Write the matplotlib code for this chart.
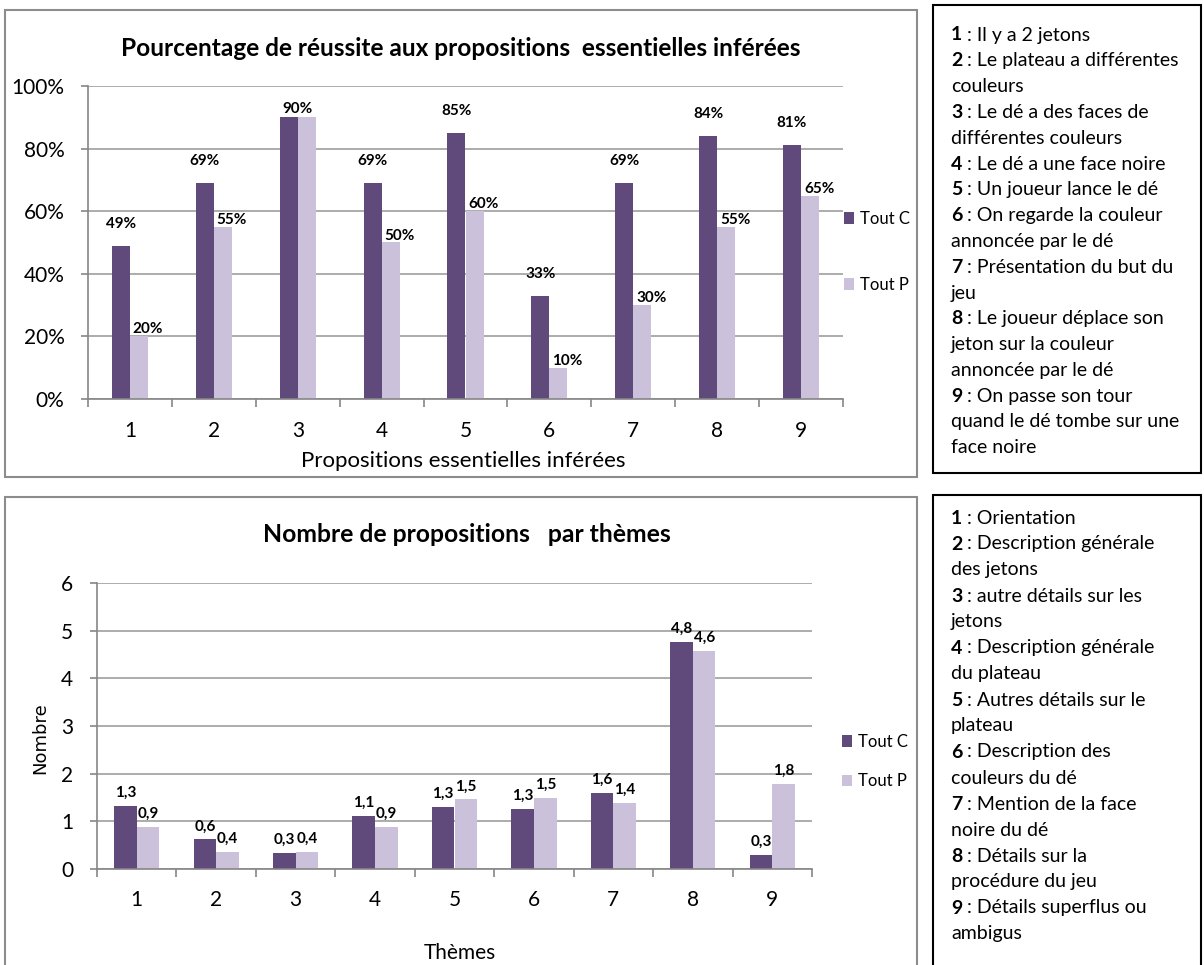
import re
import numpy as np
import matplotlib
matplotlib.use('Agg')
import matplotlib.pyplot as plt
from matplotlib.patches import Rectangle
from matplotlib.ticker import PercentFormatter

# Data
categories = ['1', '2', '3', '4', '5', '6', '7', '8', '9']
series_names = ['Tout C', 'Tout P']
reussite_c = [49, 69, 90, 69, 85, 33, 69, 84, 81]
reussite_p = [20, 55, 90, 50, 60, 10, 30, 55, 65]
nombre_c = [1.33, 0.62, 0.34, 1.12, 1.31, 1.26, 1.60, 4.76, 0.30]
nombre_p = [0.88, 0.36, 0.36, 0.88, 1.46, 1.49, 1.38, 4.58, 1.78]

notes_top = [
    "1 : Il y a 2 jetons",
    "2 : Le plateau a différentes",
    "couleurs",
    "3 : Le dé a des faces de",
    "différentes couleurs",
    "4 : Le dé a une face noire",
    "5 : Un joueur lance le dé",
    "6 : On regarde la couleur",
    "annoncée par le dé",
    "7 : Présentation du but du",
    "jeu",
    "8 : Le joueur déplace son",
    "jeton sur la couleur",
    "annoncée par le dé",
    "9 : On passe son tour",
    "quand le dé tombe sur une",
    "face noire",
]
notes_bottom = [
    "1 : Orientation",
    "2 : Description générale",
    "des jetons",
    "3 : autre détails sur les",
    "jetons",
    "4 : Description générale",
    "du plateau",
    "5 : Autres détails sur le",
    "plateau",
    "6 : Description des",
    "couleurs du dé",
    "7 : Mention de la face",
    "noire du dé",
    "8 : Détails sur la",
    "procédure du jeu",
    "9 : Détails superflus ou",
    "ambigus",
]

# Style
W, H = 1204, 965
FONT = ['Lato', 'DejaVu Sans']
DARK = '#604A7B'
LIGHT = '#CCC1DA'
GRID = '#A6A6A6'
AXIS = '#868686'

plt.rcParams['font.family'] = FONT

fig = plt.figure(figsize=(W / 100, H / 100), dpi=100)


def px_axes(left, top, right, bottom):
    return fig.add_axes([left / W, 1 - bottom / H, (right - left) / W, (bottom - top) / H])


def fx(px):
    return px / W


def fy(py):
    return 1 - py / H


def setup_axes(ax, ymax, ystep, xpad):
    x = np.arange(1, len(categories) + 1)
    ax.set_xlim(0.5, len(categories) + 0.5)
    ax.set_ylim(0, ymax)
    ax.set_yticks(np.arange(0, ymax + ystep / 2, ystep))
    ax.yaxis.grid(True, color=GRID, lw=1.3)
    ax.set_axisbelow(True)
    for s in ['top', 'right']:
        ax.spines[s].set_visible(False)
    for s in ['left', 'bottom']:
        ax.spines[s].set_color(AXIS)
        ax.spines[s].set_linewidth(1.2)
    ax.set_xticks(np.arange(0.5, len(categories) + 1, 1))
    ax.set_xticklabels([])
    ax.set_xticks(x, minor=True)
    ax.set_xticklabels(categories, minor=True, fontsize=15)
    ax.tick_params(axis='x', which='major', length=6, color=AXIS, width=1.2)
    ax.tick_params(axis='x', which='minor', length=0, pad=xpad)
    ax.tick_params(axis='y', length=5, color=AXIS, width=1.2, pad=12, labelsize=15)
    return x


# ---------- Chart 1 : pourcentage ----------
ax1 = px_axes(88, 86, 843, 399)
x = setup_axes(ax1, 1.0, 0.2, 16)
ax1.yaxis.set_major_formatter(PercentFormatter(1.0, decimals=0))
w1 = 0.215
c_vals = np.array(reussite_c) / 100
p_vals = np.array(reussite_p) / 100
b1 = ax1.bar(x - w1 / 2, c_vals, w1, color=DARK, label=series_names[0])
b2 = ax1.bar(x + w1 / 2, p_vals, w1, color=LIGHT, label=series_names[1])
for i in range(len(categories)):
    if reussite_c[i] == reussite_p[i]:
        ax1.annotate(f'{reussite_p[i]}%', (x[i], p_vals[i]), xytext=(0, 8),
                     textcoords='offset pixels', ha='center', va='center',
                     fontsize=11, fontweight='bold')
        continue
    ax1.annotate(f'{reussite_c[i]}%', (x[i] - w1 / 2, c_vals[i]), xytext=(0, 22),
                 textcoords='offset pixels', ha='center', va='center',
                 fontsize=11, fontweight='bold')
    ax1.annotate(f'{reussite_p[i]}%', (x[i] + w1, p_vals[i]), xytext=(0, 7),
                 textcoords='offset pixels', ha='center', va='center',
                 fontsize=11, fontweight='bold')
ax1.legend(loc='center left', bbox_to_anchor=(0.99, 0.47), frameon=False,
           fontsize=12, handlelength=0.6, handleheight=0.7, handletextpad=0.4,
           labelspacing=3.0, borderpad=0)
fig.text(fx(461), fy(49), 'Pourcentage de réussite aux propositions  essentielles inférées',
         ha='center', va='center', fontsize=17.6, fontweight='bold')
fig.text(fx(463), fy(461), 'Propositions essentielles inférées',
         ha='center', va='center', fontsize=16)

# ---------- Chart 2 : nombre ----------
ax2 = px_axes(97, 583, 812, 869)
x = setup_axes(ax2, 6, 1, 15)
w2 = 0.285
b3 = ax2.bar(x - w2 / 2, nombre_c, w2, color=DARK, label=series_names[0])
b4 = ax2.bar(x + w2 / 2, nombre_p, w2, color=LIGHT, label=series_names[1])
for i in range(len(categories)):
    for xi, v in ((x[i] - w2 / 2, nombre_c[i]), (x[i] + w2 / 2, nombre_p[i])):
        ax2.annotate(f'{v:.1f}'.replace('.', ','), (xi, v), xytext=(0, 13),
                     textcoords='offset pixels', ha='center', va='center',
                     fontsize=11, fontweight='bold')
ax2.legend(loc='center left', bbox_to_anchor=(1.03, 0.375), frameon=False,
           fontsize=12, handlelength=0.6, handleheight=0.7, handletextpad=0.4,
           labelspacing=1.4, borderpad=0)
fig.text(fx(467), fy(535), 'Nombre de propositions   par thèmes',
         ha='center', va='center', fontsize=17.8, fontweight='bold')
fig.text(fx(460), fy(953), 'Thèmes', ha='center', va='center', fontsize=15)
fig.text(fx(40), fy(738), 'Nombre', ha='center', va='center', rotation=90,
         fontsize=13, family='DejaVu Sans')

# ---------- Frames ----------
fig.patches.append(Rectangle((fx(5), fy(477)), 912 / W, 467 / H, transform=fig.transFigure,
                             fill=False, ec='#8C8C8C', lw=1.5))
fig.patches.append(Rectangle((fx(5), fy(970)), 912 / W, 473 / H, transform=fig.transFigure,
                             fill=False, ec='#8C8C8C', lw=1.5))
fig.patches.append(Rectangle((fx(933), fy(473)), 268 / W, 468 / H, transform=fig.transFigure,
                             fill=False, ec='black', lw=1.5))
fig.patches.append(Rectangle((fx(933), fy(970)), 268 / W, 475 / H, transform=fig.transFigure,
                             fill=False, ec='black', lw=1.5))

# ---------- Notes ----------
renderer = fig.canvas.get_renderer()


def write_notes(lines, x0, y0, step):
    for k, line in enumerate(lines):
        y = fy(y0 + k * step)
        m = re.match(r'^(\d)( : .*)$', line)
        if m:
            t = fig.text(fx(x0), y, m.group(1), ha='left', va='center', fontsize=14,
                         fontweight='bold')
            bb = t.get_window_extent(renderer)
            fig.text(bb.x1 / W, y, m.group(2), ha='left', va='center', fontsize=14)
        else:
            fig.text(fx(x0), y, line, ha='left', va='center', fontsize=14)


write_notes(notes_top, 951, 35, 25.8)
write_notes(notes_bottom, 951, 518, 26.0)

fig.savefig('out.png', dpi=100)
